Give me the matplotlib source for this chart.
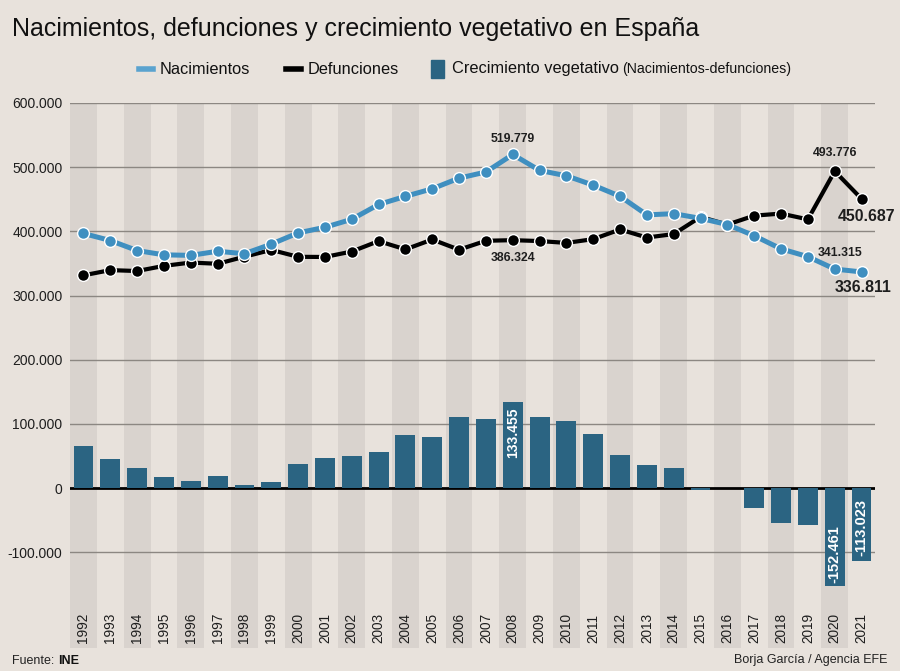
import matplotlib.pyplot as plt
import matplotlib.lines as mlines
import matplotlib.patches as mpatches
import numpy as np

# =====================================================
# DATA (INE)
# =====================================================

years = list(range(1992, 2022))

nacimientos = [
    396747, 385786, 370148, 363469, 362626, 369035, 365193, 380130,
    397632, 406380, 418846, 441881, 454591, 466371, 482957, 492527,
    519779, 494997, 486575, 471999, 454648, 425715, 427595, 420290,
    410583, 393181, 372777, 360617, 341315, 336811
]

defunciones = [
    331515, 339661, 338242, 346227, 351449, 349521, 360511, 371102,
    360391, 360131, 368618, 384828, 371934, 387355, 371478, 385361,
    386324, 384933, 382047, 387911, 402950, 390419, 395830, 422568,
    410611, 424523, 427721, 418703, 493776, 450687
]

crecimiento = [
    65232, 46125, 31906, 17242, 11177, 19514, 4682, 9028,
    37241, 46249, 50228, 57053, 82657, 79016, 111479, 107166,
    133455, 110064, 104528, 84088, 51698, 35296, 31765, -2278,
    -28, -31342, -54944, -58086, -152461, -113023
]

yticks = [-100000, 0, 100000, 200000, 300000, 400000, 500000, 600000]

# =====================================================
# STYLE
# =====================================================

plt.rcParams['font.family'] = ['Liberation Sans', 'DejaVu Sans']

BG = '#e8e2dc'
STRIPE = '#d9d3ce'
BLUE = '#3f8fc0'
BAR = '#2b6482'
GRID = '#8c8782'
INK = '#1e1e1e'


def fmt(v):
    return f"{v:,}".replace(",", ".")


fig = plt.figure(figsize=(9, 6.71), dpi=100)
fig.patch.set_facecolor(BG)

ax = fig.add_axes([0.0778, 0.0343, 0.8944, 0.8122])
ax.set_facecolor(BG)

x = np.arange(len(years))

# stripes
for i in x:
    if i % 2 == 0:
        ax.axvspan(i - 0.5, i + 0.5, color=STRIPE, lw=0, zorder=0)

ax.set_xlim(-0.5, 29.5)
ax.set_ylim(-249000, 600000)

# gridlines
for t in yticks:
    if t == 0:
        continue
    ax.axhline(t, color=GRID, lw=1, zorder=1)

ax.set_yticks(yticks)
ax.set_yticklabels([fmt(t) for t in yticks], fontsize=10, color=INK)
ax.tick_params(axis='y', length=0, pad=5.5)
ax.set_xticks([])
for s in ax.spines.values():
    s.set_visible(False)

# bars (drawn over the zero line, as in the original)
ax.axhline(0, color='black', lw=2, zorder=1.5)
ax.bar(x, crecimiento, width=0.74, color=BAR, zorder=2)

# lines
ax.plot(x, defunciones, color='black', lw=3, marker='o', markersize=8.5,
        markerfacecolor='black', markeredgecolor='white', markeredgewidth=1,
        zorder=4)
ax.plot(x, nacimientos, color=BLUE, lw=3.6, marker='o', markersize=8.5,
        markerfacecolor=BLUE, markeredgecolor='white', markeredgewidth=1,
        zorder=5)

# year labels
for i, yr in zip(x, years):
    ax.text(i, -241000, str(yr), rotation=90, ha='center', va='bottom',
            fontsize=9.8, color=INK, zorder=6)

# annotations
i08 = years.index(2008)
i20 = years.index(2020)
i21 = years.index(2021)


def label(i, v, dx, dy, size):
    ax.annotate(fmt(v), (i, v), xytext=(dx, dy), textcoords='offset points',
                ha='center', va='center', fontsize=size, fontweight='bold',
                color=INK, zorder=6)


label(i08, nacimientos[i08], 0, 11, 8.8)
label(i08, defunciones[i08], 0, -12.5, 8.8)
label(i20, defunciones[i20], 0, 13, 8.8)
label(i20, nacimientos[i20], 3.5, 11.5, 8.8)
label(i21, defunciones[i21], 3.3, -12.5, 11.4)
label(i21, nacimientos[i21], 1, -11.5, 11.4)

ax.annotate(fmt(crecimiento[i08]), (i08, crecimiento[i08]), xytext=(0, -3.5),
            textcoords='offset points', rotation=90, ha='center', va='top',
            fontsize=10, fontweight='bold', color='white', zorder=6)
ax.annotate(fmt(crecimiento[i20]), (i20, crecimiento[i20]), xytext=(0, 2.5),
            textcoords='offset points', rotation=90, ha='center', va='bottom',
            fontsize=10.5, fontweight='bold', color='white', zorder=6)
ax.annotate(fmt(crecimiento[i21]), (i21, crecimiento[i21]), xytext=(0, 3.5),
            textcoords='offset points', rotation=90, ha='center', va='bottom',
            fontsize=10.5, fontweight='bold', color='white', zorder=6)

# =====================================================
# TITLE, LEGEND, FOOTER
# =====================================================

fig.text(0.013, 0.957, "Nacimientos, defunciones y crecimiento vegetativo en España",
         fontsize=18, color='#111111', va='center', ha='left')

ly = 1 - 69 / 671
fig.add_artist(mlines.Line2D([139 / 900, 153 / 900], [ly, ly], color='#5aa3cf', lw=4))
fig.text(160 / 900, ly, "Nacimientos", fontsize=11.8, va='center', color='#111111')
fig.add_artist(mlines.Line2D([286 / 900, 301 / 900], [ly, ly], color='black', lw=4))
fig.text(308 / 900, ly, "Defunciones", fontsize=11.8, va='center', color='#111111')
fig.add_artist(mpatches.Rectangle((431 / 900, ly - 0.0134), 13 / 900, 0.0268,
                                  color=BAR, transform=fig.transFigure))
fig.text(452 / 900, ly, "Crecimiento vegetativo", fontsize=11.8, va='center', color='#111111')
fig.text(622 / 900, ly, "(Nacimientos-defunciones)", fontsize=10.2, va='center', color='#111111')

fig.text(12 / 900, 1 - 661 / 671, "Fuente: ", fontsize=9, va='center', color='#222222')
fig.text(58 / 900, 1 - 661 / 671, "INE", fontsize=9, va='center', fontweight='bold',
         color='#111111')
fig.text(887 / 900, 1 - 660 / 671, "Borja García / Agencia EFE", fontsize=9, va='center',
         ha='right', color='#222222')

plt.savefig("out.png", dpi=100, facecolor=BG)
